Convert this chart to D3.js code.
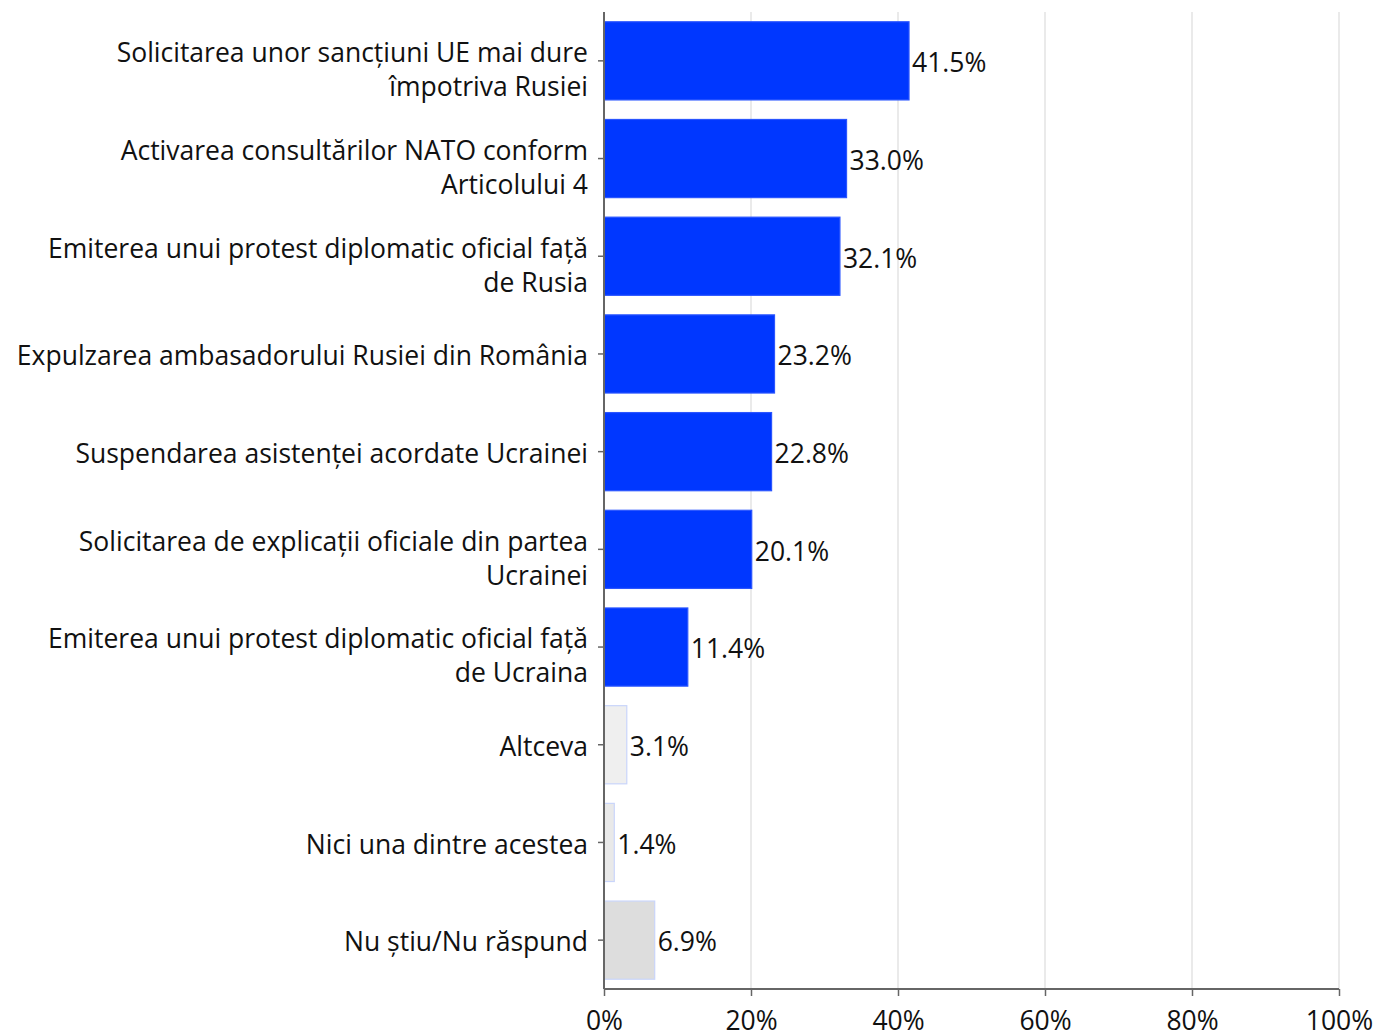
<!DOCTYPE html>
<html><head><meta charset="utf-8">
<script src="https://cdn.jsdelivr.net/npm/d3@7"></script>
<style>body{margin:0;background:#fff}svg{display:block}</style>
</head><body>
<script>
const categories = [
  ["Solicitarea unor sancțiuni UE mai dure", "împotriva Rusiei"],
  ["Activarea consultărilor NATO conform", "Articolului 4"],
  ["Emiterea unui protest diplomatic oficial față", "de Rusia"],
  ["Expulzarea ambasadorului Rusiei din România"],
  ["Suspendarea asistenței acordate Ucrainei"],
  ["Solicitarea de explicații oficiale din partea", "Ucrainei"],
  ["Emiterea unui protest diplomatic oficial față", "de Ucraina"],
  ["Altceva"],
  ["Nici una dintre acestea"],
  ["Nu știu/Nu răspund"]
];
const values = [41.5, 33.0, 32.1, 23.2, 22.8, 20.1, 11.4, 3.1, 1.4, 6.9];
const barColors = ["#0037ff","#0037ff","#0037ff","#0037ff","#0037ff","#0037ff","#0037ff","#efefef","#e9e9e9","#dddddd"];
const xTicks = [0, 20, 40, 60, 80, 100];
const xTickLabels = ["0%","20%","40%","60%","80%","100%"];

const W = 1377, H = 1035;
const FONT = "'Open Sans', sans-serif";
const FS = 26.5;
const svg = d3.select("body").append("svg").attr("width", W).attr("height", H);

const x = d3.scaleLinear().domain([0, 100]).range([604, 1339]);
const y = d3.scaleBand().domain(d3.range(values.length)).range([12, 989]).paddingInner(0.2).paddingOuter(0.1);

// gridlines
svg.append("g").selectAll("line").data(xTicks.slice(1)).join("line")
  .attr("x1", d => x(d)).attr("x2", d => x(d))
  .attr("y1", 12).attr("y2", 989)
  .attr("stroke", "#e3e3e3").attr("stroke-width", 1.5);

// bars
svg.append("g").selectAll("rect").data(values).join("rect")
  .attr("x", x(0)).attr("y", (d, i) => y(i))
  .attr("width", d => x(d) - x(0)).attr("height", y.bandwidth())
  .attr("fill", (d, i) => barColors[i])
  .attr("stroke", (d, i) => i < 7 ? "#2a55ff" : "#c9d5fa").attr("stroke-width", 1.2);

// value labels
svg.append("g").selectAll("text").data(values).join("text")
  .attr("x", d => x(d) + 3).attr("y", (d, i) => y(i) + y.bandwidth() / 2 + 2)
  .attr("dy", "0.35em")
  .attr("font-family", FONT).attr("font-size", FS).attr("fill", "#111")
  .text(d => d.toFixed(1) + "%");

// y axis
const yAxis = svg.append("g").attr("transform", `translate(${x(0)},0)`)
  .call(d3.axisLeft(y).tickSize(6).tickFormat(""));
yAxis.select(".domain").attr("stroke", "#666").attr("stroke-width", 2).attr("d", "M0,12V989");
yAxis.selectAll(".tick line").attr("stroke", "#666").attr("stroke-width", 1.5);

// category labels
const lab = svg.append("g");
categories.forEach((lines, i) => {
  const cy = y(i) + y.bandwidth() / 2;
  const lh = 34;
  const n = lines.length;
  const t = lab.append("text")
    .attr("text-anchor", "end")
    .attr("font-family", FONT).attr("font-size", FS).attr("fill", "#111");
  lines.forEach((ln, j) => {
    t.append("tspan").attr("x", 588)
      .attr("y", cy + (j - (n - 1) / 2) * lh + (n > 1 ? 9 : 2))
      .attr("dy", "0.35em").text(ln);
  });
});

// x axis
const xAxis = svg.append("g").attr("transform", "translate(0,989)")
  .call(d3.axisBottom(x).tickValues(xTicks).tickSize(7).tickFormat((d, i) => xTickLabels[i]));
xAxis.select(".domain").attr("stroke", "#666").attr("stroke-width", 2).attr("d", "M604,0H1339");
xAxis.selectAll(".tick line").attr("stroke", "#666").attr("stroke-width", 1.5);
xAxis.selectAll(".tick text").attr("font-family", FONT).attr("font-size", FS).attr("fill", "#111").attr("dy", 0).attr("y", 41);
</script>
</body></html>
